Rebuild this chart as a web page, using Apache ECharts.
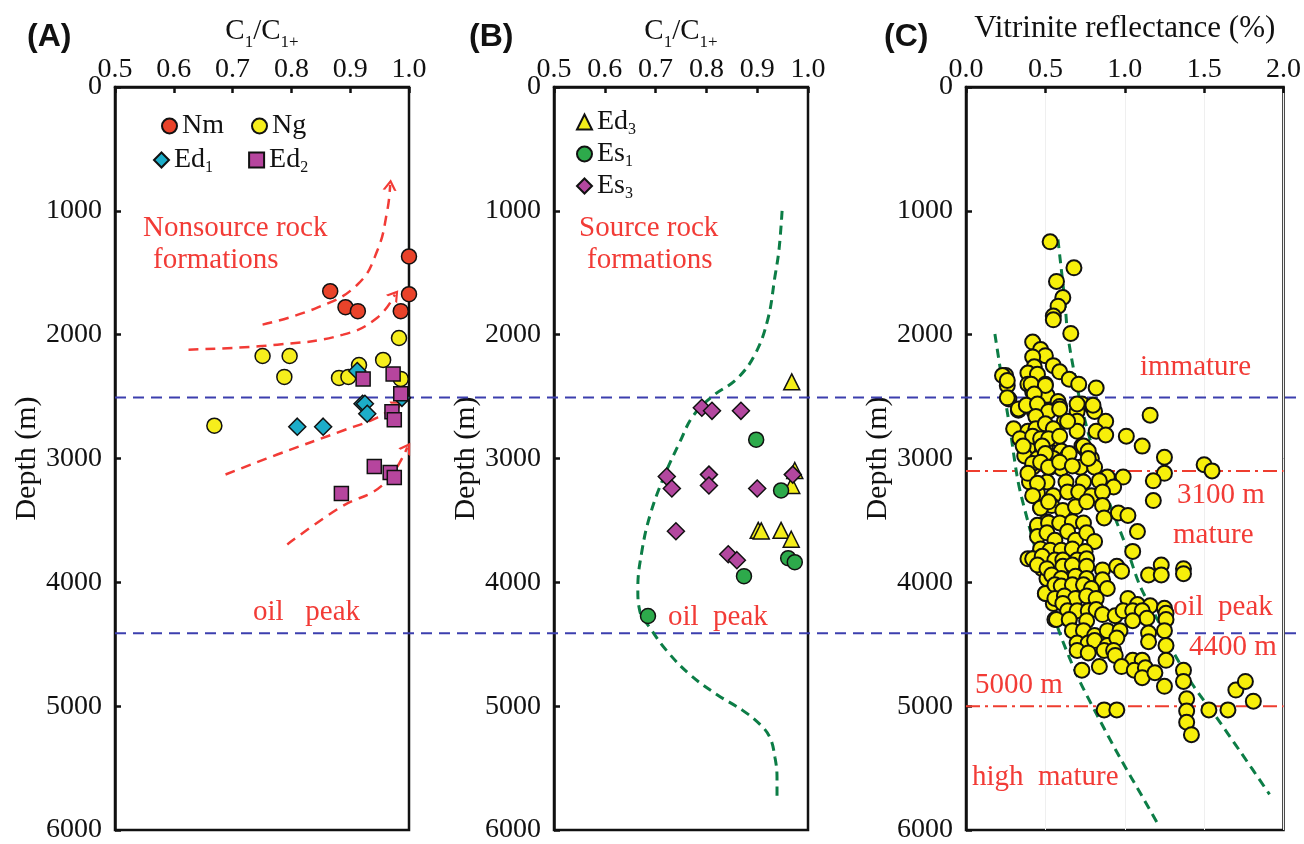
<!DOCTYPE html>
<html>
<head>
<meta charset="utf-8">
<script src="https://cdn.jsdelivr.net/npm/echarts@6/dist/echarts.min.js"></script>
<style>
  html, body { margin: 0; padding: 0; background: #ffffff; }
  #chart { width: 1304px; height: 844px; }
</style>
</head>
<body>
<div id="chart"></div>
<script>
// ---- Panel A: C1/C1+ vs depth, non-source formations ----
const nm  = [[1.0,1368],[1.0,1673],[0.866,1649],[0.892,1778],[0.913,1810],[0.986,1810]];
const ng  = [[0.983,2027],[0.751,2172],[0.797,2172],[0.788,2341],[0.881,2349],[0.897,2341],
             [0.915,2245],[0.956,2204],[0.986,2357],[0.669,2735]];
const ed1 = [[0.912,2293],[0.921,2558],[0.925,2558],[0.929,2639],[0.810,2743],[0.854,2743],[0.988,2510]];
const ed2 = [[0.922,2357],[0.973,2317],[0.986,2478],[0.971,2623],[0.975,2687],[0.941,3065],
             [0.968,3113],[0.975,3154],[0.885,3282]];

// migration trend arrows in panel A (C1/C1+, depth)
const pathA1 = [[0.751,1919],[0.844,1782],[0.912,1597],[0.946,1323],[0.963,1000],[0.968,790]];
const pathA2 = [[0.625,2121],[0.776,2081],[0.888,2000],[0.946,1863],[0.976,1677]];
const pathA3 = [[0.688,3129],[0.776,2968],[0.888,2774],[0.946,2669],[0.981,2565]];
const pathA4 = [[0.793,3694],[0.883,3395],[0.956,3210],[0.997,2911]];

// ---- Panel B: C1/C1+ vs depth, source formations ----
const ed3 = [[0.968,2381],[0.974,3097],[0.968,3218],[0.902,3580],[0.908,3585],[0.947,3580],[0.967,3652]];
const es1 = [[0.898,2848],[0.947,3258],[0.961,3805],[0.974,3837],[0.874,3950],[0.685,4272]];
const es3 = [[0.791,2590],[0.811,2615],[0.868,2615],[0.722,3146],[0.732,3242],[0.805,3130],
             [0.805,3218],[0.900,3242],[0.970,3130],[0.740,3588],[0.843,3773],[0.860,3821]];
const trendB = [[0.949,1000],[0.943,1311],[0.935,1529],[0.921,1874],[0.896,2156],[0.860,2357],
                [0.813,2494],[0.774,2655],[0.748,2864],[0.715,3162],[0.689,3459],[0.673,3749],
                [0.665,4047],[0.669,4232],[0.689,4368],[0.722,4553],[0.768,4747],[0.821,4907],
                [0.872,5036],[0.906,5149],[0.925,5253],[0.935,5414],[0.939,5575],[0.939,5760]];

// ---- Panel C: vitrinite reflectance (%) vs depth ----
const ro = [
  [0.53,1250],[0.68,1460],[0.57,1570],[0.61,1700],[0.58,1770],[0.55,1850],[0.55,1880],[0.66,1990],
  [0.42,2060],[0.47,2120],[0.50,2170],[0.42,2180],[0.43,2260],[0.55,2250],[0.59,2300],[0.39,2310],
  [0.45,2320],[0.65,2360],[0.25,2330],[0.26,2410],[0.39,2400],[0.50,2400],[0.71,2400],[0.82,2430],
  [0.27,2520],[0.42,2460],[0.51,2490],[0.42,2540],[0.58,2540],[0.73,2560],[0.33,2610],[0.43,2620],
  [0.51,2620],[0.59,2580],[0.70,2620],[0.80,2590],[0.81,2620],[1.16,2650],[0.45,2680],[0.62,2700],
  [0.70,2700],[0.88,2700],[0.30,2760],[0.39,2780],[0.45,2780],[0.54,2780],[0.70,2780],[0.82,2780],
  [0.88,2810],[1.01,2820],[0.34,2840],[0.45,2860],[0.51,2860],[0.57,2840],[1.11,2900],[0.39,2920],
  [0.50,2920],[0.60,2940],[0.73,2900],[0.76,2940],[0.37,2980],[0.45,3000],[0.55,3000],[0.64,2980],
  [0.79,3000],[1.25,2990],[1.50,3050],[1.55,3100],[0.42,3070],[0.53,3070],[0.60,3080],[0.72,3070],
  [0.81,3070],[1.25,3120],[1.18,3180],[0.89,3150],[0.99,3150],[1.18,3340],[0.40,3190],[0.51,3190],
  [0.63,3190],[0.74,3190],[0.84,3180],[0.93,3230],[0.45,3280],[0.55,3300],[0.64,3270],[0.71,3270],
  [0.79,3300],[0.86,3270],[0.47,3400],[0.54,3380],[0.61,3420],[0.69,3390],[0.76,3350],[0.86,3380],
  [0.96,3440],[1.02,3460],
  [0.23,2330],[0.26,2370],[0.41,2400],[0.50,2410],[0.26,2510],[0.43,2480],[0.70,2560],[0.80,2570],
  [0.33,2600],[0.38,2570],[0.45,2560],[0.52,2620],[0.59,2600],[0.64,2700],[0.44,2660],[0.44,2760],
  [0.50,2720],[0.55,2760],[0.42,2820],[0.47,2840],[0.52,2840],[0.59,2820],[0.74,2900],[0.77,2940],
  [0.36,2900],[0.48,2900],[0.50,2960],[0.65,2960],[0.77,3000],[0.42,3040],[0.47,3030],[0.52,3070],
  [0.59,3030],[0.67,3060],
  [0.39,3120],[0.45,3200],[0.42,3300],[0.47,3400],[0.52,3350],[0.45,3560],[0.51,3510],[0.39,3810],
  [0.45,3790],[0.48,3890],[0.50,4090],[0.51,3970],[0.56,4300],[0.65,4300],[0.55,4170],[0.59,4030],
  [0.45,3540],[0.52,3520],[0.59,3520],[0.67,3510],[0.74,3520],[0.87,3480],[1.08,3590],[0.45,3630],
  [0.51,3600],[0.56,3660],[0.64,3590],[0.69,3660],[0.76,3600],[0.81,3670],[0.47,3730],[0.53,3740],
  [0.60,3740],[0.67,3730],[0.75,3750],[1.05,3750],[0.42,3810],[0.48,3790],[0.56,3820],[0.61,3820],
  [0.70,3820],[0.76,3810],[0.45,3860],[0.51,3890],[0.61,3870],[0.67,3860],[0.76,3870],[0.86,3900],
  [0.95,3870],[0.98,3910],[1.15,3940],[1.23,3860],[1.23,3940],[1.37,3890],[1.37,3930],[0.54,3940],
  [0.60,3970],[0.69,3950],[0.76,3970],[0.86,3980],[0.50,4090],[0.56,4020],[0.60,4030],[0.67,4020],
  [0.74,4020],[0.79,4050],[0.89,4050],[0.56,4130],[0.62,4110],[0.69,4130],[0.76,4110],[0.82,4130],
  [1.02,4130],[1.08,4180],[1.16,4190],[1.25,4210],[1.26,4250],[0.61,4170],[0.64,4230],[0.70,4230],
  [0.77,4230],[0.82,4220],[0.86,4260],[0.94,4270],[0.99,4230],[1.05,4230],[1.11,4230],[1.14,4290],
  [1.26,4300],[1.05,4310],[0.57,4300],[0.65,4300],[0.76,4310],[0.67,4390],[0.74,4390],[0.81,4430],
  [0.89,4390],[0.97,4390],[1.15,4410],[1.25,4390],[0.70,4490],[0.77,4490],[0.81,4470],[0.89,4510],
  [0.95,4450],[1.15,4480],[1.26,4510],[0.70,4550],[0.77,4570],[0.87,4550],[0.93,4550],[0.94,4590],
  [1.26,4630],[1.05,4630],[1.11,4630],[0.98,4680],[1.06,4710],[1.13,4690],[1.11,4770],[1.19,4730],
  [0.73,4710],[0.84,4680],[1.25,4840],[1.37,4710],[1.37,4800],[1.39,4940],[1.39,5040],[1.39,5130],
  [1.42,5230],[0.87,5030],[0.95,5030],[1.53,5030],[1.65,5030],[1.70,4870],[1.76,4800],[1.81,4960]
];
const roLower = [[0.182,1995],[0.233,2414],[0.277,2759],[0.321,3138],[0.352,3323],[0.465,3862],
                 [0.572,4344],[0.698,4747],[0.824,5068],[0.969,5414],[1.113,5736],[1.220,5977]];
const roUpper = [[0.579,1231],[0.623,1738],[0.642,2011],[0.698,2414],[0.736,2623],[0.780,2840],
                 [0.843,3105],[0.893,3323],[1.013,3725],[1.094,4022],[1.201,4288],[1.302,4553],
                 [1.428,4827],[1.579,5093],[1.723,5358],[1.912,5712]];

// depth boundaries (m)
const immatureBase = 2500;
const oilPeak = 4400;
const matureTop = 3100;
const highMatureTop = 5000;

// axis tick labels
const ratioTicks = [0.5, 0.6, 0.7, 0.8, 0.9, 1.0];
const roTicks = [0.0, 0.5, 1.0, 1.5, 2.0];
const depthTicks = [0, 1000, 2000, 3000, 4000, 5000, 6000];

const SERIF = '"Liberation Serif", "Times New Roman", serif';
const SANS = '"Liberation Sans", Arial, sans-serif';
const RED = '#f23b36';
const BLUE = '#3c3fae';
const GREEN = '#0c7d46';
const INK = '#111111';

const legendRich = {
  sub: { fontFamily: SERIF, fontSize: 16, lineHeight: 32, verticalAlign: 'bottom', color: INK }
};
function withSub(name) {
  const m = name.match(/^([A-Za-z]+)(\d\+?)$/);
  return m ? m[1] + '{sub|' + m[2] + '}' : name;
}

const grids = [
  { left: 115, top: 87, width: 294, bottom: 12 },
  { left: 554, top: 87, width: 254, bottom: 12 },
  { left: 966, top: 87, width: 318, bottom: 12 },
  { left: 115, top: 87, right: 5, bottom: 12 }
];

function xAxisFor(gi, ticks, nameText, nameGap, nameSize, split) {
  const step = ticks[1] - ticks[0];
  return {
    gridIndex: gi, type: 'value', position: 'top',
    min: ticks[0], max: ticks[ticks.length - 1], interval: step,
    name: nameText, nameLocation: 'middle', nameGap: nameGap,
    nameTextStyle: { fontFamily: SERIF, fontSize: nameSize, color: INK, lineHeight: 30, rich: {
      sub: { fontFamily: SERIF, fontSize: 17, lineHeight: 40, verticalAlign: 'bottom', color: INK } } },
    axisLine: { show: true, lineStyle: { color: INK, width: 2.5 } },
    axisTick: { show: true, inside: true, length: 6, lineStyle: { color: INK, width: 2.5 } },
    axisLabel: { show: true, margin: 3, fontFamily: SERIF, fontSize: 28, color: INK,
                 formatter: v => Number(v).toFixed(1) },
    splitLine: { show: split, lineStyle: { color: '#efefef', width: 1 } }
  };
}
function yAxisFor(gi, nameGap) {
  return {
    gridIndex: gi, type: 'value', inverse: true,
    min: depthTicks[0], max: depthTicks[depthTicks.length - 1],
    interval: depthTicks[1] - depthTicks[0],
    name: 'Depth (m)', nameLocation: 'middle', nameGap: nameGap, nameRotate: 90,
    nameTextStyle: { fontFamily: SERIF, fontSize: 30, color: INK },
    axisLine: { show: true, lineStyle: { color: INK, width: 2.5 } },
    axisTick: { show: true, inside: true, length: 6, lineStyle: { color: INK, width: 2.5 } },
    axisLabel: { show: true, margin: 13, fontFamily: SERIF, fontSize: 28, color: INK,
                 showMinLabel: true, showMaxLabel: true, formatter: v => String(v) },
    splitLine: { show: false }
  };
}

function scatter(name, data, gi, symbol, size, color, bw) {
  return {
    type: 'scatter', name: name, data: data, xAxisIndex: gi, yAxisIndex: gi,
    symbol: symbol, symbolSize: size, z: 5, silent: true,
    itemStyle: { color: color, borderColor: INK, borderWidth: bw || 1.5, opacity: 1 }
  };
}
function curve(data, gi, color, width, dash, smooth, z) {
  return {
    type: 'line', data: data, xAxisIndex: gi, yAxisIndex: gi, smooth: smooth,
    symbol: 'none', silent: true, z: z || 3,
    lineStyle: { color: color, width: width, type: dash }
  };
}

const ARROW = 'path://M0,10 L5,0 L10,10 L8.2,10 L5,3.6 L1.8,10 Z';
function arrowPath(path, rot) {
  return {
    type: 'line', xAxisIndex: 0, yAxisIndex: 0, smooth: 0.45, silent: true, z: 4,
    showAllSymbol: true,
    data: path.map((p, i) => i === path.length - 1
      ? { value: p, symbol: ARROW, symbolSize: [14, 11], symbolRotate: rot }
      : { value: p, symbol: 'none' }),
    lineStyle: { color: RED, width: 2.5, type: [10, 7] },
    itemStyle: { color: RED }
  };
}

function label(text, x, y, size, color, font, weight) {
  return {
    type: 'text', x: x, y: y, silent: true, z: 10,
    style: { text: text, fill: color || RED, font: (weight || 'normal') + ' ' + (size || 29) + 'px ' + (font || SERIF),
             align: 'left', verticalAlign: 'middle' }
  };
}

const legendCommon = {
  itemWidth: 15, itemHeight: 15, selectedMode: false,
  formatter: withSub,
  textStyle: { fontFamily: SERIF, fontSize: 28, color: INK, lineHeight: 28, rich: legendRich }
};

const arrowPaths = [pathA1, pathA2, pathA3, pathA4];

function buildOption(rots) {
  return {
    animation: false,
    backgroundColor: '#ffffff',
    grid: grids.map((g, i) => Object.assign({
      show: i < 3, borderColor: INK, borderWidth: 2.5, backgroundColor: 'transparent'
    }, g)),
    xAxis: [
      xAxisFor(0, ratioTicks, 'C{sub|1}/C{sub|1+}', 32, 29, false),
      xAxisFor(1, ratioTicks, 'C{sub|1}/C{sub|1+}', 32, 29, false),
      xAxisFor(2, roTicks, 'Vitrinite reflectance (%)', 43, 31, true),
      { gridIndex: 3, type: 'value', min: 0, max: 1, show: false }
    ],
    yAxis: [
      yAxisFor(0, 65),
      yAxisFor(1, 65),
      yAxisFor(2, 67),
      { gridIndex: 3, type: 'value', inverse: true, min: depthTicks[0],
        max: depthTicks[depthTicks.length - 1], show: false }
    ],
    legend: [
      Object.assign({ data: ['Nm', 'Ng'], left: 156, top: 107, itemGap: 27 }, legendCommon),
      Object.assign({ data: ['Ed1', 'Ed2'], left: 148, top: 139, itemGap: 35 }, legendCommon),
      Object.assign({ data: ['Ed3', 'Es1', 'Es3'], left: 571, top: 101, orient: 'vertical', itemGap: 0 }, legendCommon)
    ],
    series: [
      // horizontal boundaries crossing all panels
      curve([[0, immatureBase], [1, immatureBase]], 3, BLUE, 2, [11, 7], false, 2),
      curve([[0, oilPeak], [1, oilPeak]], 3, BLUE, 2, [11, 7], false, 2),
      curve([[0, matureTop], [2, matureTop]], 2, '#ee3d2f', 2, [14, 5, 3, 5], false, 2),
      curve([[0, highMatureTop], [2, highMatureTop]], 2, '#ee3d2f', 2, [14, 5, 3, 5], false, 2),

      ...arrowPaths.map((p, i) => arrowPath(p, rots[i])),

      scatter('Nm', nm, 0, 'circle', 15, '#e9432a'),
      scatter('Ng', ng, 0, 'circle', 15, '#f6ee1c'),
      scatter('Ed1', ed1, 0, 'diamond', 17, '#1cadc9'),
      scatter('Ed2', ed2, 0, 'rect', 14, '#b6459e'),

      curve(trendB, 1, GREEN, 3, [9, 6], 0.4, 3),
      scatter('Ed3', ed3, 1, 'triangle', 16, '#f4ee1a'),
      scatter('Es1', es1, 1, 'circle', 15, '#2daa4b'),
      scatter('Es3', es3, 1, 'diamond', 17, '#b3479f'),

      curve(roLower, 2, GREEN, 3, [9, 6], 0.3, 3),
      curve(roUpper, 2, GREEN, 3, [9, 6], 0.3, 3),
      scatter('Ro', ro, 2, 'circle', 15, '#f7ef0a', 2)
    ],
    graphic: [
      label('(A)', 27, 37, 32, INK, SANS, 'bold'),
      label('(B)', 469, 37, 32, INK, SANS, 'bold'),
      label('(C)', 884, 37, 32, INK, SANS, 'bold'),
      label('Nonsource rock', 143, 228),
      label('formations', 153, 260),
      label('oil   peak', 253, 612),
      label('Source rock', 579, 228),
      label('formations', 587, 260),
      label('oil  peak', 668, 617),
      label('immature', 1140, 367),
      label('3100 m', 1177, 495),
      label('mature', 1173, 535),
      label('oil  peak', 1173, 607),
      label('4400 m', 1189, 647),
      label('5000 m', 975, 685),
      label('high  mature', 972, 777)
    ]
  };
}

const chart = echarts.init(document.getElementById('chart'), null, { renderer: 'canvas' });
chart.setOption(buildOption(arrowPaths.map(() => 0)));

// orient each arrowhead along the last segment of its path
const rots = arrowPaths.map(p => {
  const a = chart.convertToPixel({ xAxisIndex: 0, yAxisIndex: 0 }, p[p.length - 2]);
  const b = chart.convertToPixel({ xAxisIndex: 0, yAxisIndex: 0 }, p[p.length - 1]);
  const ang = Math.atan2(-(b[1] - a[1]), b[0] - a[0]) * 180 / Math.PI;
  return ang - 90;
});
chart.setOption(buildOption(rots), true);
</script>
</body>
</html>
